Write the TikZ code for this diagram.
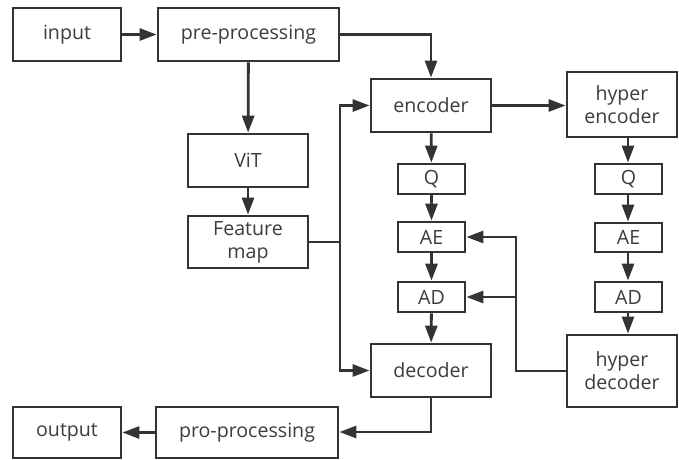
\documentclass[tikz,border=0pt]{standalone}
\usepackage{fontspec}
\setmainfont{Open Sans}
\usetikzlibrary{arrows.meta}
\definecolor{ink}{HTML}{333333}
\definecolor{txt}{HTML}{3C3C3C}
\tikzset{
  box/.style={draw=ink, line width=2.8pt, fill=white, inner sep=0pt,
    text=txt, align=center,
    font=\fontsize{19.6}{23}\selectfont},
  flow/.style={draw=ink, line width=2.8pt,
    -{Triangle[length=17pt,width=12pt]}},
  link/.style={draw=ink, line width=2.8pt}
}
% box from its corners: top-left (x1,y1), bottom-right (x2,y2), y grows downward
\newcommand{\boxat}[6]{%
  \node[box, minimum width={#4-#2}, minimum height={#5-#3}]
    (#1) at ({(#2+#4)/2},{(#3+#5)/2}) {#6};}
\begin{document}
\begin{tikzpicture}[x=1pt, y=-1pt]
\useasboundingbox (0,0) rectangle (679,459);

\boxat{in}{13}{8}{121}{61}{input}
\boxat{pre}{158}{8}{339}{61}{pre-processing}
\boxat{enc}{371}{79}{491}{132}{encoder}
\boxat{henc}{567}{72}{677}{137}{hyper\\encoder}
\boxat{vit}{188}{134}{308}{187}{ViT}
\boxat{fmap}{188}{216}{308}{268}{Feature\\map}
\boxat{q}{398}{164}{465}{194}{Q}
\boxat{ae}{398}{222}{465}{252}{AE}
\boxat{ad}{398}{282}{465}{312}{AD}
\boxat{hq}{595}{164}{662}{194}{Q}
\boxat{hae}{595}{223}{662}{252}{AE}
\boxat{had}{595}{282}{662}{312}{AD}
\boxat{dec}{371}{344}{491}{397}{decoder}
\boxat{hdec}{567}{335}{677}{407}{hyper\\decoder}
\boxat{out}{13}{407}{121}{458}{output}
\boxat{post}{156}{407}{338}{458}{pro-processing}

% main path
\draw[flow] (in) -- (pre);
\draw[flow] (pre.east) -| (enc.north);
\draw[flow] (pre) -- (vit);
\draw[flow] (vit) -- (fmap);
\coordinate (bus) at (340,0);
\draw[link] (fmap.east) -- (fmap.east -| bus);
\draw[flow] (fmap.east -| bus) |- (enc.west);
\draw[flow] (fmap.east -| bus) |- (dec.west);
\draw[flow] (enc) -- (q);
\draw[flow] (q) -- (ae);
\draw[flow] (ae) -- (ad);
\draw[flow] (ad) -- (dec);

% hyper branch
\draw[flow] (enc.east) -- (enc.east -| henc.west);
\coordinate (hx) at (628,0);
\draw[flow] (henc.south -| hx) -- (hq.north -| hx);
\draw[flow] (hq.south -| hx) -- (hae.north -| hx);
\draw[flow] (hae.south -| hx) -- (had.north -| hx);
\draw[flow] (had.south -| hx) -- (hdec.north -| hx);

% side information back to the entropy coders
\coordinate (side) at (516,0);
\draw[flow] (hdec.west) -| (side |- ae.east) -- (ae.east);
\draw[flow] (side |- ad.east) -- (ad.east);

% output path
\coordinate (low) at (0,432);
\draw[flow] (dec.south) |- (low -| post.east);
\draw[flow] (post.west) -- (post.west -| out.east);
\end{tikzpicture}
\end{document}
